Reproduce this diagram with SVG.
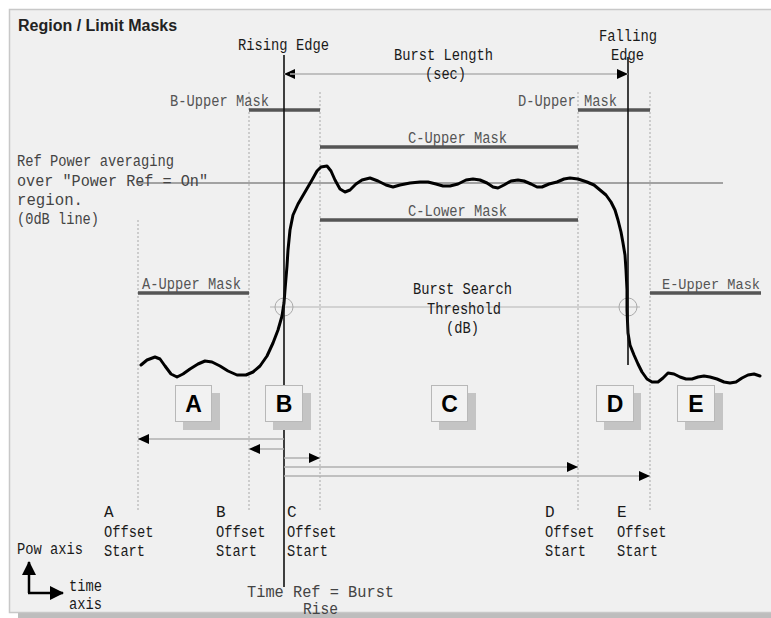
<svg xmlns="http://www.w3.org/2000/svg" width="771" height="618" viewBox="0 0 771 618">
<style>
.m{font-family:"Liberation Mono","DejaVu Sans Mono",monospace;font-size:16px;fill:#1a1a1a}
.g{fill:#555}
.mask{stroke:#555;stroke-width:3.5;fill:none}
.dot{stroke:#a8a8a8;stroke-width:1;stroke-dasharray:2,2;fill:none}
.arr{stroke:#b0b0b0;stroke-width:1.5;fill:none}
.box{fill:#f2f2f2;stroke:#b8b8b8;stroke-width:1}
.shd{fill:#c4c4c4}
.bl{font-family:"Liberation Sans",Arial,sans-serif;font-weight:bold;font-size:23px;fill:#000;text-anchor:middle}
</style>
<defs>
<marker id="ah" markerUnits="userSpaceOnUse" markerWidth="11" markerHeight="10" refX="11" refY="5" orient="auto"><path d="M0,0 L11,5 L0,10 z" fill="#000"/></marker>
<marker id="ah2" markerUnits="userSpaceOnUse" markerWidth="14" markerHeight="14" refX="13" refY="7" orient="auto"><path d="M0,0 L14,7 L0,14 z" fill="#000"/></marker>
</defs>
<rect x="0" y="0" width="771" height="618" fill="#ffffff"/>
<rect x="18" y="613" width="753" height="5" fill="#bdbdbd"/>
<rect x="9.5" y="9.5" width="770" height="603" fill="#f0f0f0" stroke="#c8c8c8" stroke-width="1.5"/>
<text x="18" y="31" style="font-family:'Liberation Sans',Arial,sans-serif;font-weight:bold;font-size:16px;fill:#222">Region / Limit Masks</text>

<g id="guides">
<line class="dot" x1="138" y1="220" x2="138" y2="512"/>
<line class="dot" x1="249" y1="92" x2="249" y2="512"/>
<line class="dot" x1="320" y1="92" x2="320" y2="512"/>
<line class="dot" x1="578" y1="92" x2="578" y2="512"/>
<line class="dot" x1="650" y1="92" x2="650" y2="512"/>
<line x1="138" y1="183" x2="723" y2="183" stroke="#555" stroke-width="1.2"/>
<line x1="270" y1="307" x2="640" y2="307" stroke="#b4b4b4" stroke-width="1.2"/>
<circle cx="284" cy="307" r="9" fill="none" stroke="#aaa" stroke-width="1"/>
<circle cx="628" cy="307" r="9" fill="none" stroke="#aaa" stroke-width="1"/>
</g>

<g id="masks">
<line class="mask" x1="249" y1="110" x2="320" y2="110"/>
<line class="mask" x1="578" y1="110" x2="650" y2="110"/>
<line class="mask" x1="320" y1="147" x2="578" y2="147"/>
<line class="mask" x1="320" y1="220" x2="578" y2="220"/>
<line class="mask" x1="138" y1="293" x2="249" y2="293"/>
<line class="mask" x1="650" y1="293" x2="761" y2="293"/>
<text class="m g" x="170" y="106" textLength="99" lengthAdjust="spacingAndGlyphs">B-Upper Mask</text>
<text class="m g" x="518" y="106" textLength="99" lengthAdjust="spacingAndGlyphs">D-Upper Mask</text>
<text class="m g" x="408" y="143" textLength="99" lengthAdjust="spacingAndGlyphs">C-Upper Mask</text>
<text class="m g" x="408" y="216" textLength="99" lengthAdjust="spacingAndGlyphs">C-Lower Mask</text>
<text class="m g" x="142" y="289" textLength="99" lengthAdjust="spacingAndGlyphs">A-Upper Mask</text>
<text class="m g" x="662" y="289" textLength="98" lengthAdjust="spacingAndGlyphs" style="font-size:14.5px">E-Upper Mask</text>
</g>

<g id="waveform">
<polyline fill="none" stroke="#000" stroke-width="3" stroke-linejoin="round" stroke-linecap="round" points="141,365 147,360 155,357 160,359 165,366 171,374 177,377 183,374 190,369 198,364 205,361 212,362 220,366 228,371 237,375 246,375 253,372 260,366 267,356 273,343 278,330 282,316 284,303 285,290 286,278 287,266 288,250 290,230 293,215 298,204 305,192 312,180 317,171 321,167 327,166 331,171 335,180 340,189 345,192 350,190 356,184 362,180 370,178 378,181 386,185 393,187 400,185 410,183 420,182 428,182 436,184 443,186 450,186 458,184 466,180 473,179 480,180 487,183 493,187 498,188 504,185 511,181 518,180 524,181 531,184 537,187 542,187 549,184 557,182 564,179 570,178 578,179 587,182 594,185 600,190 606,195 611,202 615,210 618,220 621,232 623,243 625,255 626,270 627,290 627,310 628,333 630,345 634,355 638,364 642,372 647,379 652,382 658,382 663,378 668,373 674,374 680,377 686,379 692,379 698,377 704,376 710,377 717,379 724,382 730,383 736,382 742,378 748,375 754,374 760,376"/>
</g>

<g id="edges">
<line x1="284" y1="55" x2="284" y2="587" stroke="#111" stroke-width="1.6"/>
<line x1="628" y1="57" x2="628" y2="365" stroke="#111" stroke-width="1.6"/>
<text class="m" x="238" y="50" textLength="91" lengthAdjust="spacingAndGlyphs">Rising Edge</text>
<text class="m" x="599" y="41" textLength="58" lengthAdjust="spacingAndGlyphs">Falling</text>
<text class="m" x="611" y="60" textLength="33" lengthAdjust="spacingAndGlyphs">Edge</text>
<text class="m" x="247" y="597" textLength="147" lengthAdjust="spacingAndGlyphs" style="fill:#444">Time Ref = Burst</text>
<text class="m" x="303" y="614" textLength="35" lengthAdjust="spacingAndGlyphs" style="fill:#444">Rise</text>
</g>

<g id="connectors">
<line x1="290" y1="74" x2="284" y2="74" class="arr" marker-end="url(#ah)"/>
<line x1="290" y1="74" x2="628" y2="74" class="arr" marker-end="url(#ah)"/>
<line x1="284" y1="439" x2="138" y2="439" class="arr" marker-end="url(#ah)"/>
<line x1="284" y1="449" x2="249" y2="449" class="arr" marker-end="url(#ah)"/>
<line x1="284" y1="458" x2="320" y2="458" class="arr" marker-end="url(#ah)"/>
<line x1="284" y1="467" x2="578" y2="467" class="arr" marker-end="url(#ah)"/>
<line x1="284" y1="476" x2="650" y2="476" class="arr" marker-end="url(#ah)"/>
<line x1="29" y1="593" x2="29" y2="562" stroke="#000" stroke-width="2.5" marker-end="url(#ah2)"/>
<line x1="28" y1="593" x2="63" y2="593" stroke="#000" stroke-width="2.5" marker-end="url(#ah2)"/>
</g>

<g id="labels">
<text class="m" x="394" y="60" textLength="99" lengthAdjust="spacingAndGlyphs">Burst Length</text>
<text class="m" x="425" y="79" textLength="41" lengthAdjust="spacingAndGlyphs">(sec)</text>
<text class="m" x="17" y="166" textLength="157" lengthAdjust="spacingAndGlyphs" style="fill:#444">Ref Power averaging</text>
<text class="m" x="17" y="185.5" textLength="191" lengthAdjust="spacingAndGlyphs" style="fill:#444">over ″Power Ref = On″</text>
<text class="m" x="17" y="205" textLength="66" lengthAdjust="spacingAndGlyphs" style="fill:#444">region.</text>
<text class="m" x="17" y="224" textLength="82" lengthAdjust="spacingAndGlyphs" style="fill:#444">(0dB line)</text>
<text class="m" x="413" y="294" textLength="99" lengthAdjust="spacingAndGlyphs">Burst Search</text>
<text class="m" x="427" y="314" textLength="74" lengthAdjust="spacingAndGlyphs">Threshold</text>
<text class="m" x="446" y="333" textLength="33" lengthAdjust="spacingAndGlyphs">(dB)</text>
<text class="m" x="17" y="554" textLength="66" lengthAdjust="spacingAndGlyphs">Pow axis</text>
<text class="m" x="69" y="591" textLength="33" lengthAdjust="spacingAndGlyphs">time</text>
<text class="m" x="69" y="609" textLength="33" lengthAdjust="spacingAndGlyphs">axis</text>
</g>

<g id="offset-labels">
<text class="m" x="104" y="517">A</text>
<text class="m" x="104" y="537" textLength="49.5" lengthAdjust="spacingAndGlyphs">Offset</text>
<text class="m" x="104" y="556" textLength="41" lengthAdjust="spacingAndGlyphs">Start</text>
<text class="m" x="216" y="517">B</text>
<text class="m" x="216" y="537" textLength="49.5" lengthAdjust="spacingAndGlyphs">Offset</text>
<text class="m" x="216" y="556" textLength="41" lengthAdjust="spacingAndGlyphs">Start</text>
<text class="m" x="287" y="517">C</text>
<text class="m" x="287" y="537" textLength="49.5" lengthAdjust="spacingAndGlyphs">Offset</text>
<text class="m" x="287" y="556" textLength="41" lengthAdjust="spacingAndGlyphs">Start</text>
<text class="m" x="545" y="517">D</text>
<text class="m" x="545" y="537" textLength="49.5" lengthAdjust="spacingAndGlyphs">Offset</text>
<text class="m" x="545" y="556" textLength="41" lengthAdjust="spacingAndGlyphs">Start</text>
<text class="m" x="617" y="517">E</text>
<text class="m" x="617" y="537" textLength="49.5" lengthAdjust="spacingAndGlyphs">Offset</text>
<text class="m" x="617" y="556" textLength="41" lengthAdjust="spacingAndGlyphs">Start</text>
</g>

<g id="box-A"><rect class="shd" x="183" y="393" width="37" height="37"/><rect class="box" x="175.5" y="385.5" width="36" height="36"/><text class="bl" x="193.5" y="412">A</text></g>
<g id="box-B"><rect class="shd" x="273" y="393" width="38" height="37"/><rect class="box" x="265.5" y="385.5" width="37" height="36"/><text class="bl" x="284" y="412">B</text></g>
<g id="box-C"><rect class="shd" x="439" y="393" width="37" height="37"/><rect class="box" x="431.5" y="385.5" width="36" height="36"/><text class="bl" x="449.5" y="412">C</text></g>
<g id="box-D"><rect class="shd" x="604" y="393" width="37" height="37"/><rect class="box" x="596.5" y="385.5" width="37" height="36"/><text class="bl" x="615" y="412">D</text></g>
<g id="box-E"><rect class="shd" x="685" y="393" width="38" height="37"/><rect class="box" x="677.5" y="385.5" width="37" height="36"/><text class="bl" x="696" y="412">E</text></g>
</svg>
